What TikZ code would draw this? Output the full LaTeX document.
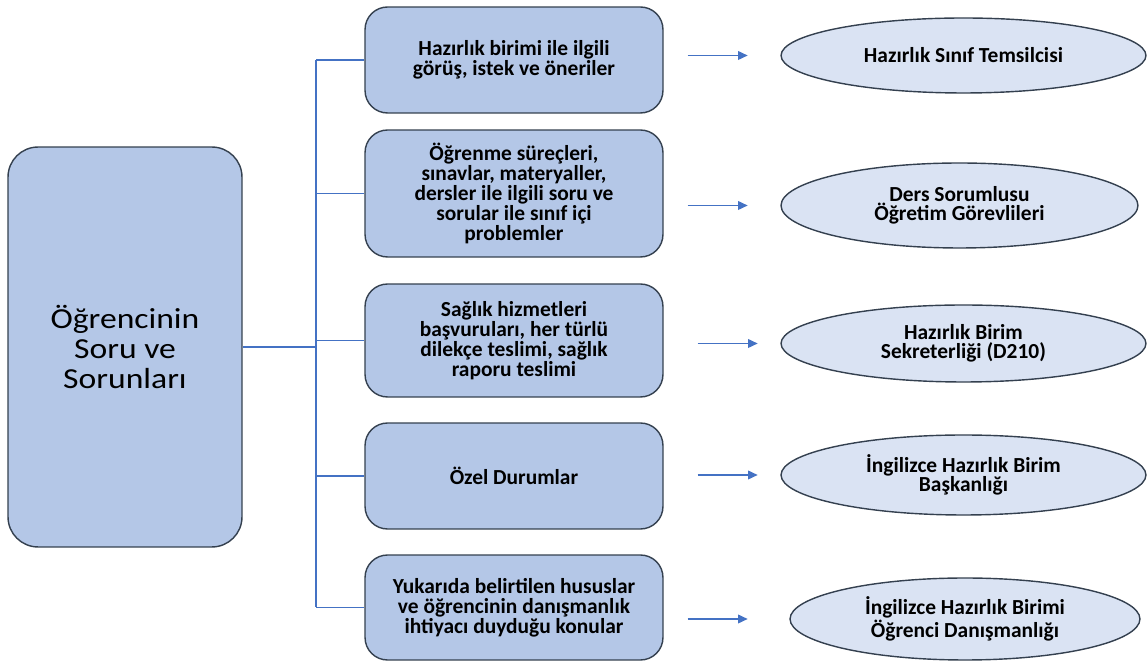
\documentclass[tikz,border=0pt]{standalone}
\usepackage{fontspec}
\setmainfont{Carlito}
\newfontfamily\widefont{Carlito}[FakeStretch=1.16]
\usetikzlibrary{shapes.geometric,positioning,arrows.meta,calc}

\definecolor{boxfill}{HTML}{B4C7E7}
\definecolor{ovalfill}{HTML}{DAE3F3}
\definecolor{edgegray}{HTML}{34404F}
\definecolor{linkblue}{HTML}{4472C4}

\tikzset{
    bigbox/.style={draw=edgegray, fill=boxfill, line width=0.8pt, rounded corners=0.6cm,
        minimum width=4.68cm, minimum height=8cm, align=center,
        font=\widefont\fontsize{16.5}{17.2}\selectfont},
    itembox/.style={draw=edgegray, fill=boxfill, line width=0.8pt, rounded corners=0.45cm,
        minimum width=5.96cm, align=center,
        font=\bfseries\fontsize{12.2}{11.5}\selectfont},
    oval/.style={ellipse, draw=edgegray, fill=ovalfill, line width=0.8pt, inner sep=0pt,
        align=center, font=\bfseries\fontsize{12.2}{11}\selectfont},
    link/.style={draw=linkblue, line width=0.75pt},
    arrow/.style={link, -{Triangle[length=5.5pt,width=5pt]}}
}

\begin{document}
\begin{tikzpicture}[x=0.02cm, y=-0.02cm]
    \useasboundingbox (0,0) rectangle (1147,661);

    % main box
    \node[bigbox] (src) at (125,347) {Öğrencinin\\Soru ve\\Sorunları};

    % topics
    \node[itembox, minimum height=2.12cm] (b1) at (514,60) {Hazırlık birimi ile ilgili\\görüş, istek ve öneriler};
    \node[itembox, minimum height=2.54cm] (b2) at (514,193.5) {Öğrenme süreçleri,\\sınavlar, materyaller,\\dersler ile ilgili soru ve\\sorular ile sınıf içi\\problemler};
    \node[itembox, minimum height=2.26cm] (b3) at (514,340.5) {Sağlık hizmetleri\\başvuruları, her türlü\\dilekçe teslimi, sağlık\\raporu teslimi};
    \node[itembox, minimum height=2.12cm] (b4) at (514,476) {Özel Durumlar};
    \node[itembox, minimum height=2.1cm] (b5) at (514,607.5) {Yukarıda belirtilen hususlar\\ve öğrencinin danışmanlık\\ihtiyacı duyduğu konular};

    % contacts
    \node[oval, minimum width=7.3cm, minimum height=1.5cm] (e1) at (963.5,55.5) {Hazırlık Sınıf Temsilcisi};
    \node[oval, minimum width=7.14cm, minimum height=1.7cm] (e2) at (959.5,205.5) {Ders Sorumlusu\\Öğretim Görevlileri};
    \node[oval, minimum width=7.3cm, minimum height=1.54cm] (e3) at (963.5,343.5) {Hazırlık Birim\\Sekreterliği (D210)};
    \node[oval, minimum width=7.3cm, minimum height=1.6cm] (e4) at (963.5,475) {İngilizce Hazırlık Birim\\Başkanlığı};
    \node[oval, minimum width=7.0cm, minimum height=1.64cm] (e5) at (965,619) {İngilizce Hazırlık Birimi\\Öğrenci Danışmanlığı};

    % tree
    \coordinate (trunk) at (316,0);
    \draw[link] (src.east) -- (src.east -| trunk);
    \draw[link] (b1.west -| trunk) -- (b5.west -| trunk);
    \foreach \b in {b1,b2,b3,b4,b5}
        \draw[link] (\b.west -| trunk) -- (\b.west);

    % arrows
    \foreach \n/\dx in {1/24,2/24,3/34,4/34,5/24}
        \draw[arrow] ($(b\n.east |- e\n.west)+(\dx,0)$) -- ++(60,0);
\end{tikzpicture}
\end{document}
